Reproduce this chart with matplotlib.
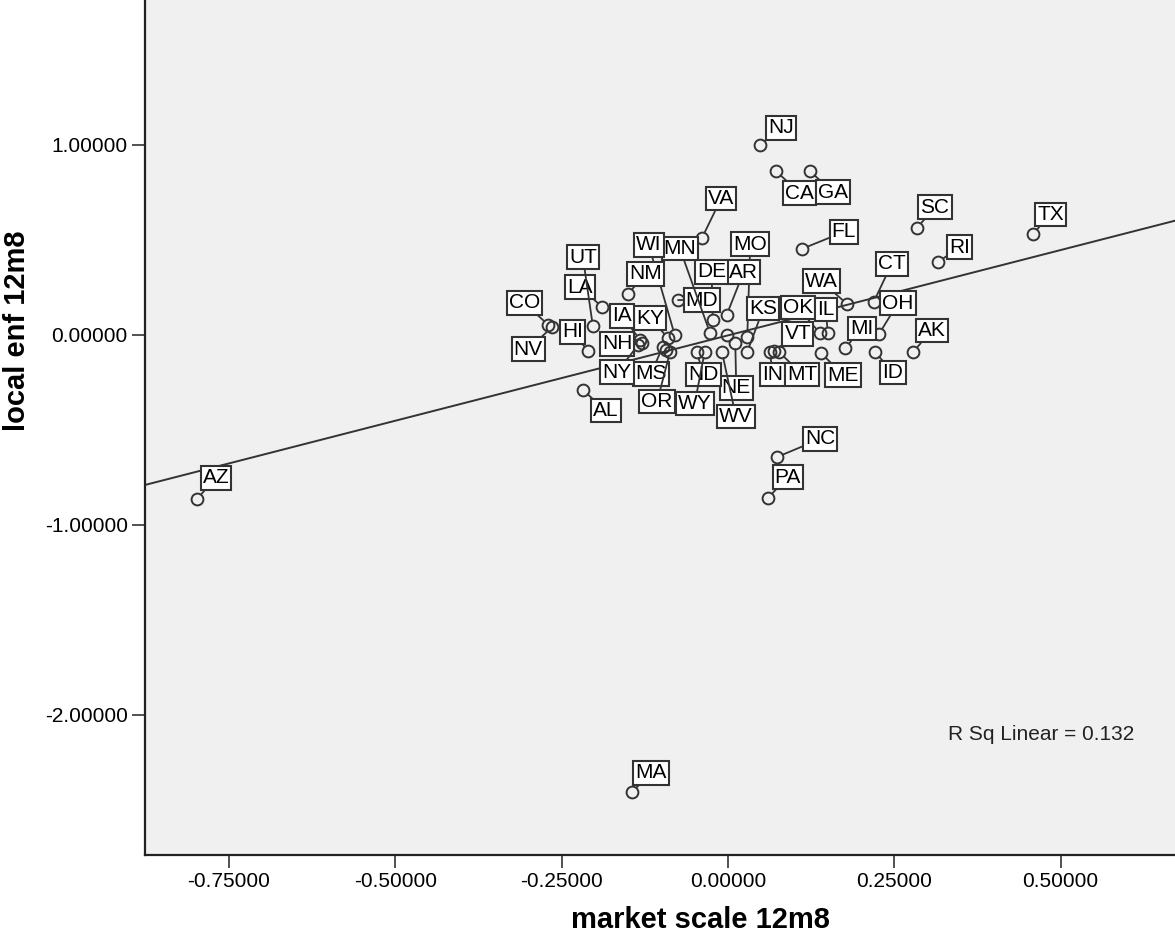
import matplotlib.pyplot as plt
import numpy as np

plt.rcParams["font.family"] = ["Liberation Sans", "DejaVu Sans"]

# data
states = ["NJ", "CA", "GA", "VA", "SC", "TX", "RI", "FL", "CT", "WA",
          "OH", "OK", "IL", "MI", "ME", "ID", "AK", "IN", "MT", "VT",
          "MO", "KS", "AR", "DE", "MD", "MN", "WI", "SD", "NE", "WV",
          "ND", "WY", "KY", "MS", "OR", "TN", "IA", "NH", "NY", "NM",
          "LA", "UT", "HI", "CO", "NV", "AL", "NC", "PA", "AZ", "MA"]
market_scale = [0.048, 0.072, 0.123, -0.039, 0.284, 0.458, 0.316, 0.111, 0.219, 0.179,
                0.227, 0.138, 0.150, 0.176, 0.140, 0.221, 0.278, 0.063, 0.077, 0.069,
                0.029, 0.029, -0.002, -0.023, -0.075, -0.027, -0.080, -0.002, 0.011, -0.009,
                -0.047, -0.035, -0.090, -0.098, -0.087, -0.093, -0.132, -0.129, -0.135, -0.150,
                -0.189, -0.203, -0.210, -0.270, -0.264, -0.218, 0.074, 0.060, -0.798, -0.144]
local_enf = [1.000, 0.863, 0.863, 0.511, 0.563, 0.532, 0.384, 0.453, 0.174, 0.163,
             0.005, 0.011, 0.011, -0.068, -0.095, -0.089, -0.089, -0.089, -0.089, -0.084,
             -0.011, -0.089, 0.105, 0.079, 0.184, 0.011, 0.000, 0.000, -0.042, -0.089,
             -0.089, -0.089, -0.016, -0.063, -0.089, -0.079, -0.026, -0.042, -0.053, 0.216,
             0.147, 0.047, -0.084, 0.053, 0.042, -0.289, -0.642, -0.858, -0.863, -2.405]
r_sq_text = "R Sq Linear = 0.132"

# label box offsets from the point, in pixels (layout only)
label_offset = {
    "NJ": (21, 17), "CA": (24, -22), "GA": (23, -21), "VA": (19, 39), "SC": (18, 21),
    "TX": (18, 19), "RI": (21, 15), "FL": (42, 17), "CT": (18, 38), "WA": (-26, 23),
    "OH": (19, 31), "OK": (-22, 25), "IL": (-2, 23), "MI": (17, 19), "ME": (22, -22),
    "ID": (18, -21), "AK": (19, 21), "IN": (3, -23), "MT": (23, -23), "VT": (24, 17),
    "MO": (3, 93), "KS": (16, 43), "AR": (17, 43), "DE": (-1, 48), "MD": (24, 0),
    "MN": (-30, 84), "WI": (-26, 90), "NE": (1, -45), "WV": (14, -65), "ND": (7, -23),
    "WY": (-10, -52), "KY": (-18, 20), "MS": (-12, -27), "OR": (-13, -50), "IA": (-18, 24),
    "NH": (-25, -1), "NY": (-21, -27), "NM": (17, 20), "LA": (-22, 20), "UT": (-10, 69),
    "HI": (-16, 19), "CO": (-24, 22), "NV": (-24, -22), "AL": (23, -21), "NC": (43, 18),
    "PA": (20, 21), "AZ": (19, 21), "MA": (19, 19),
}

x = np.array(market_scale)
y = np.array(local_enf)

fig = plt.figure(figsize=(11.75, 9.48), dpi=100)
# axes run past the right and top edges, like the cropped original
ax = fig.add_axes([145 / 1175, 93 / 948, 1110 / 1175, 1048 / 948])
ax.set_facecolor("#f0f0f0")

ax.plot(x, y, "o", ms=8.5, mfc="none", mec="#333333", mew=1.4, zorder=3)

# fit line
slope, intercept = np.polyfit(x, y, 1)
xl = np.array([-0.876, 0.792])
ax.plot(xl, intercept + slope * xl, color="#333333", lw=1.4, zorder=2)

for s, xi, yi in zip(states, x, y):
    if s not in label_offset:
        continue
    ax.annotate(
        s, (xi, yi), xytext=label_offset[s], textcoords="offset pixels",
        ha="center", va="center", fontsize=15, color="black", zorder=5,
        bbox=dict(boxstyle="square,pad=0.1", fc="white", ec="#333333", lw=1.5),
        arrowprops=dict(arrowstyle="-", color="#333333", lw=1.3, shrinkA=0, shrinkB=4.5),
    )

ax.text(0.47, -2.105, r_sq_text, fontsize=15, ha="center", va="center", color="#222222")

ax.set_xlim(-0.876, 0.792)
ax.set_ylim(-2.737, 2.779)
ax.set_xticks([-0.75, -0.5, -0.25, 0.0, 0.25, 0.5])
ax.set_yticks([1.0, 0.0, -1.0, -2.0])
ax.xaxis.set_major_formatter(plt.FormatStrFormatter("%.5f"))
ax.yaxis.set_major_formatter(plt.FormatStrFormatter("%.5f"))
ax.tick_params(direction="out", length=9.5, width=1.2, color="#333333",
               labelsize=15, pad=3)

for side in ["left", "bottom"]:
    ax.spines[side].set_linewidth(1.6)
    ax.spines[side].set_color("#222222")

ax.set_xlabel("market scale 12m8", fontsize=21, fontweight="bold")
ax.set_ylabel("local enf 12m8", fontsize=21, fontweight="bold")
ax.xaxis.set_label_coords((700 - 145) / 1110, (855 - 906) / 1048)
ax.yaxis.set_label_coords((31 - 145) / 1110, 0.5)

fig.savefig("out.png", dpi=100)
